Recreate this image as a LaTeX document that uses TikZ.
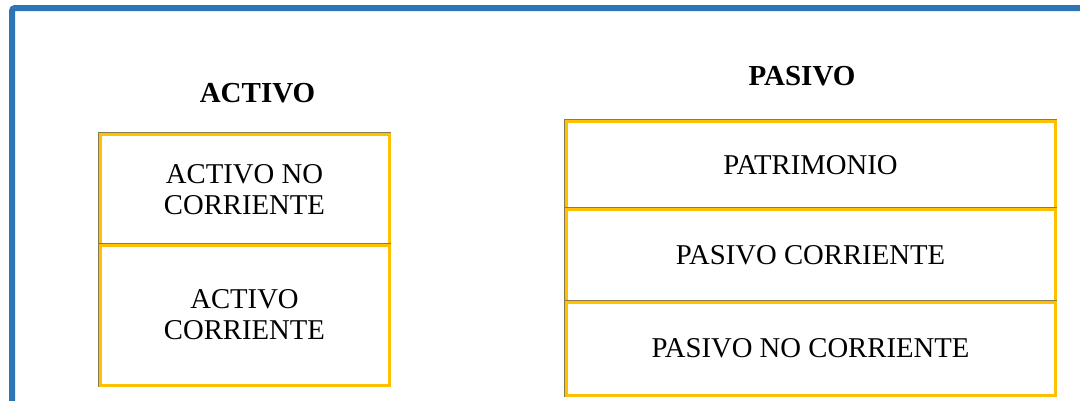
\documentclass[tikz,border=0pt]{standalone}
\usepackage{fontspec}
\setmainfont{Liberation Serif}
\definecolor{frameblue}{HTML}{2E75B6}
\definecolor{gold}{HTML}{FFC000}
\definecolor{edgegray}{HTML}{8A7A50}
\begin{document}
\begin{tikzpicture}[x=1pt,y=-1pt,
  box/.style={draw=gold, line width=3pt, fill=white, rectangle, inner sep=0pt,
    preaction={draw=edgegray, line width=4.4pt},
    align=center, font=\fontsize{28.7}{31}\selectfont},
  heading/.style={font=\fontsize{29}{34}\selectfont\bfseries, inner sep=0pt}]
\useasboundingbox (0,0) rectangle (1080,400);
\clip (0,0) rectangle (1080,400);
\fill[white] (0,0) rectangle (1080,400);
% blue frame
\draw[frameblue, line width=6pt, rounded corners=3pt] (12,420) -- (12,8) -- (1100,8);
% headings
\node[heading] (hact) at (257.5,93) {ACTIVO};
\node[heading] (hpas) at (802,76) {PASIVO};
% left column
\node[box, minimum width=289pt, minimum height=111pt] (anc) at (244.5,189.5) {ACTIVO NO\\CORRIENTE};
\node[box, minimum width=289pt, minimum height=140pt] (acorr) at (244.5,315) {ACTIVO\\CORRIENTE};
% right column
\node[box, minimum width=489pt, minimum height=88pt] (patr) at (810.5,165) {PATRIMONIO};
\node[box, minimum width=489pt, minimum height=93pt] (pcorr) at (810.5,255.5) {PASIVO CORRIENTE};
\node[box, minimum width=489pt, minimum height=93pt] (pnc) at (810.5,348.5) {PASIVO NO CORRIENTE};
\end{tikzpicture}
\end{document}
